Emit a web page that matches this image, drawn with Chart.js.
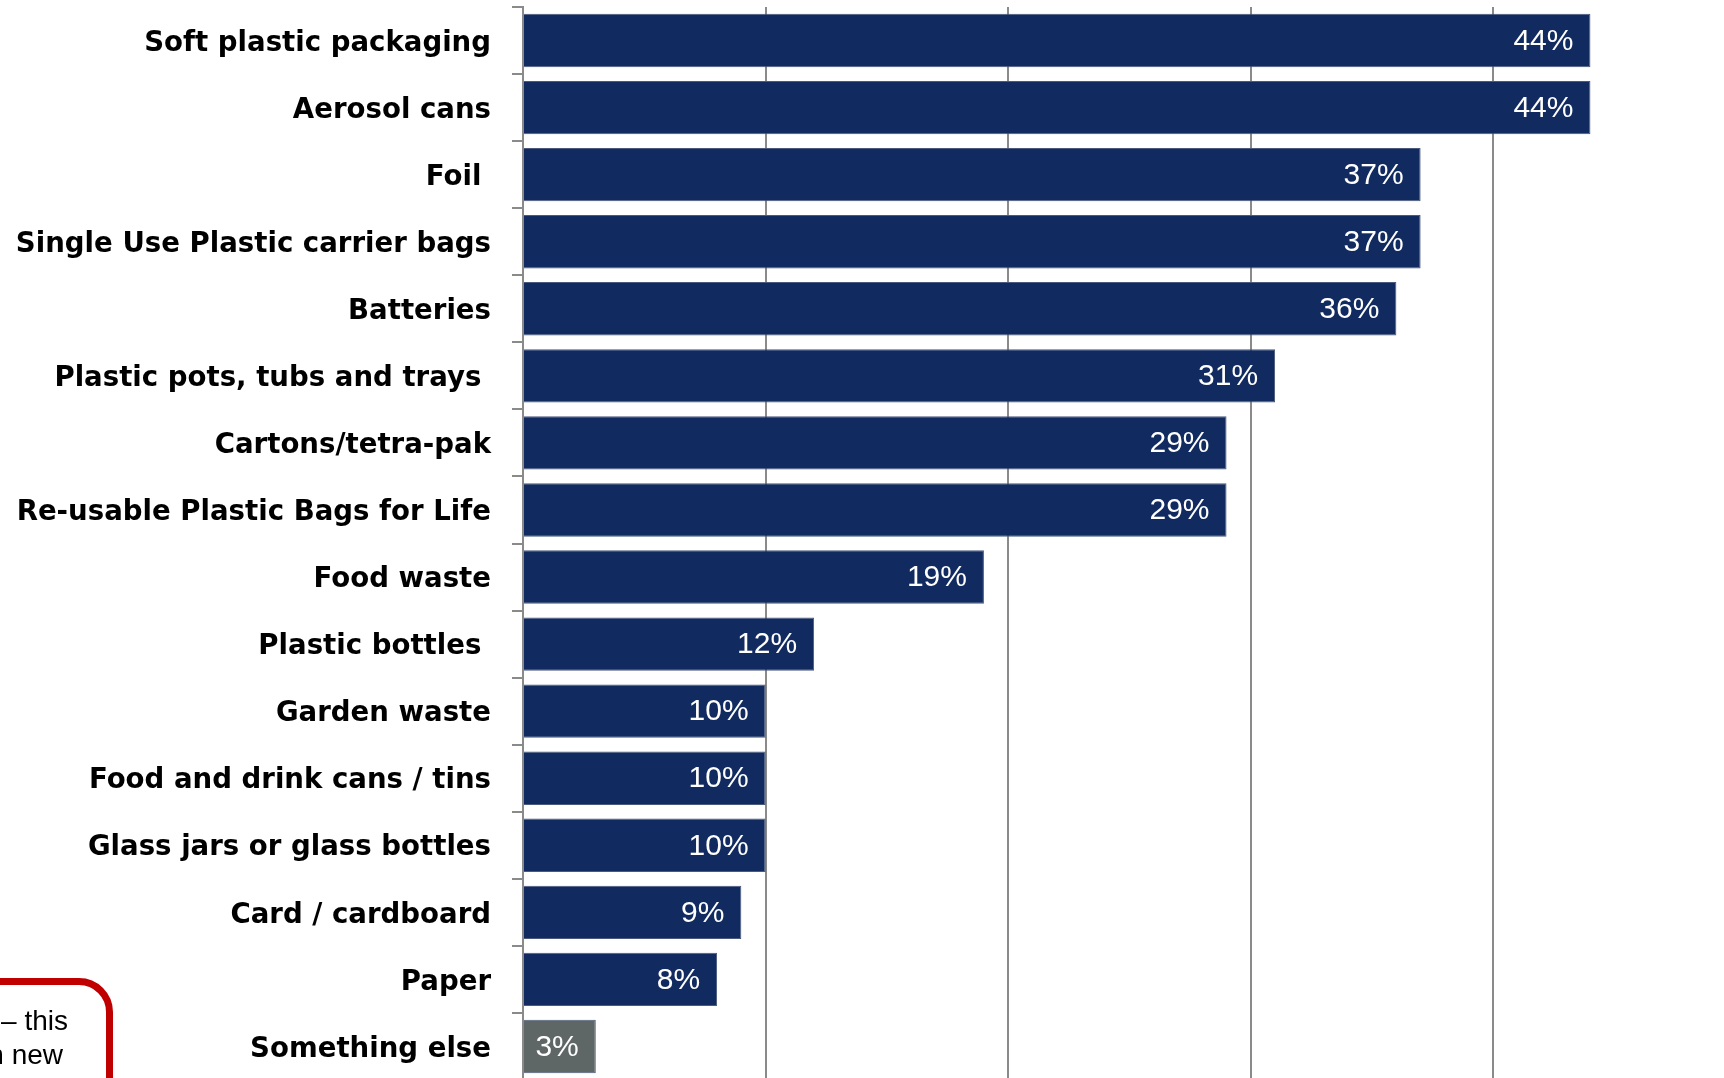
<!DOCTYPE html>
<html>
<head>
<meta charset="utf-8">
<script src="https://cdn.jsdelivr.net/npm/chart.js@4"></script>
<style>
  html, body { margin: 0; padding: 0; background: #fff; overflow: hidden; }
  #wrap { position: relative; width: 1724px; height: 1078px; overflow: hidden; }
  #grafico { position: absolute; left: 0; top: 0; }
  .nota {
    position: absolute; left: -300px; top: 978px; width: 413px; height: 200px;
    border: 7px solid #c00000; border-radius: 34px;
    font-family: "Liberation Sans", Arial, sans-serif; font-size: 28px; line-height: 34px;
    color: #000; text-align: right; padding: 19px 38px 0 0; box-sizing: border-box;
  }
</style>
</head>
<body>
<div id="wrap">
  <canvas id="grafico" width="1736" height="1080"></canvas>
  <div class="nota">– this<br><span style="padding-right:5px">n new</span></div>
</div>
<script>
// materiales (con espacios finales tal como vienen en la encuesta)
const categorias = [
    'Soft plastic packaging',
    'Aerosol cans',
    'Foil ',
    'Single Use Plastic carrier bags',
    'Batteries',
    'Plastic pots, tubs and trays ',
    'Cartons/tetra-pak',
    'Re-usable Plastic Bags for Life',
    'Food waste',
    'Plastic bottles ',
    'Garden waste',
    'Food and drink cans / tins',
    'Glass jars or glass bottles',
    'Card / cardboard',
    'Paper',
    'Something else'
];
const porcentajes = [44, 44, 37, 37, 36, 31, 29, 29, 19, 12, 10, 10, 10, 9, 8, 3];
const ticksX = [0, 10, 20, 30, 40, 50];

const AZUL = '#112a5f';
const GRIS_BARRA = '#5f6766';
const GRIS_LINEA = '#8a8a8a';

const colores = categorias.map(c => c === 'Something else' ? GRIS_BARRA : AZUL);

// etiqueta blanca dentro de cada barra
const etiquetas = {
    id: 'etiquetas',
    beforeDraw(chart) {
        // bajar un poco los nombres de las categorias
        const esc = chart.scales.y;
        if (!esc._bajado) {
            const orig = esc.drawLabels;
            esc.drawLabels = function (area) {
                this.ctx.save();
                this.ctx.translate(0, 3);
                orig.call(this, area);
                this.ctx.restore();
            };
            esc._bajado = true;
        }
    },
    afterDatasetsDraw(chart) {
        const ctx = chart.ctx;
        const meta = chart.getDatasetMeta(0);
        ctx.save();
        ctx.font = '30px "Liberation Sans", Arial, sans-serif';
        ctx.fillStyle = '#ffffff';
        ctx.textAlign = 'right';
        ctx.textBaseline = 'middle';
        meta.data.forEach((bar, i) => {
            ctx.fillText(porcentajes[i] + '%', bar.x - 17, bar.y + 1);
        });
        ctx.restore();
    }
};

function Graficar(canvas) {
    const ctx = document.getElementById(canvas);
    new Chart(ctx, {
        type: 'bar',
        data: {
            labels: categorias,
            datasets: [{
                data: porcentajes,
                backgroundColor: colores,
                borderColor: '#4a5a7c',
                borderWidth: 1,
                barPercentage: 0.795,
                categoryPercentage: 1
            }]
        },
        options: {
            indexAxis: 'y',
            responsive: false,
            animation: false,
            layout: { padding: { top: 7, right: 0, bottom: 0, left: 0 } },
            plugins: {
                legend: { display: false },
                tooltip: { enabled: false }
            },
            scales: {
                x: {
                    min: ticksX[0],
                    max: ticksX[ticksX.length - 1],
                    afterBuildTicks: (scale) => { scale.ticks = ticksX.map(v => ({ value: v })); },
                    afterFit: (scale) => {
                        scale.height = 0;
                        scale.paddingLeft = 0;
                        scale.paddingRight = 0;
                    },
                    ticks: { display: false },
                    grid: { color: GRIS_LINEA, lineWidth: 2, drawTicks: false },
                    border: { display: false }
                },
                y: {
                    afterFit: (scale) => {
                        scale.width = 523;
                        scale.paddingTop = 0;
                        scale.paddingBottom = 0;
                    },
                    ticks: {
                        color: '#000',
                        padding: 21,
                        font: { family: '"DejaVu Sans", sans-serif', weight: 'bold', size: 27.6 }
                    },
                    grid: {
                        offset: true,
                        drawOnChartArea: false,
                        color: GRIS_LINEA,
                        lineWidth: 2,
                        tickLength: 11
                    },
                    border: { color: GRIS_LINEA, width: 2 }
                }
            }
        },
        plugins: [etiquetas]
    });
}

Graficar('grafico');
</script>
</body>
</html>
